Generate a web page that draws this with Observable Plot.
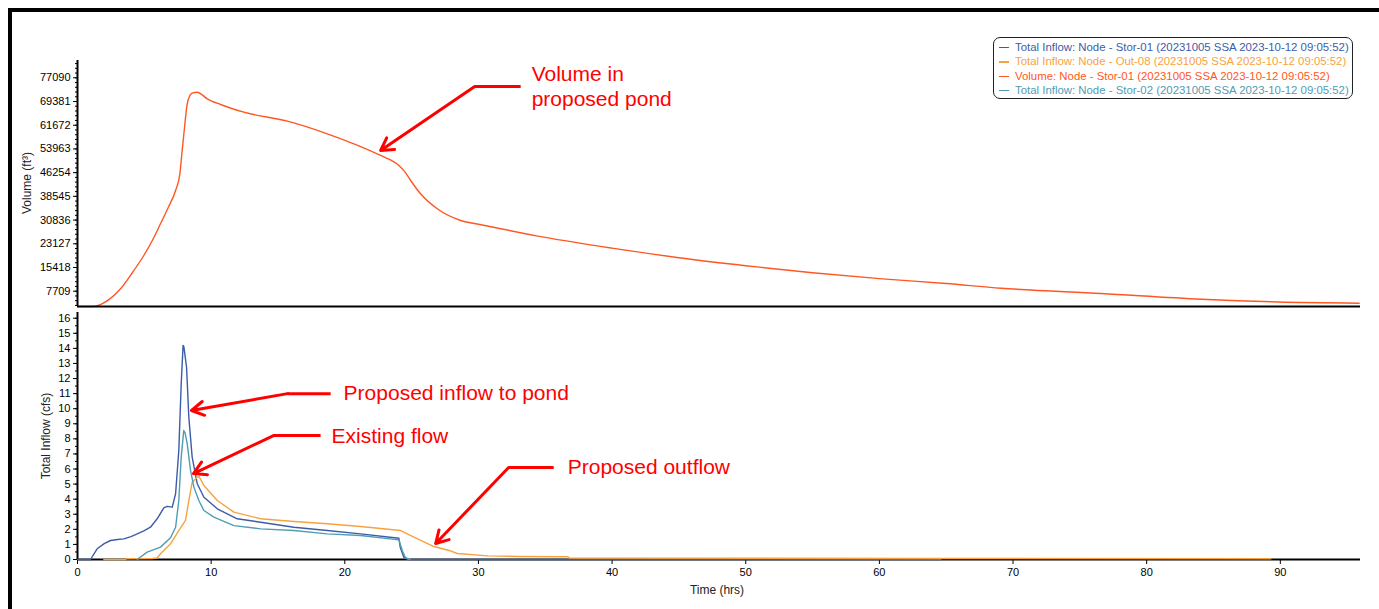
<!DOCTYPE html>
<html>
<head>
<meta charset="utf-8">
<script src="https://cdn.jsdelivr.net/npm/d3@7"></script>
<script src="https://cdn.jsdelivr.net/npm/@observablehq/plot@0.6"></script>
<style>
  body { margin: 0; background: #fff; font-family: "Liberation Sans", Arial, sans-serif; }
  #wrap { position: relative; width: 1379px; height: 609px; overflow: hidden; background: #fff; }
  .bar { position: absolute; background: #000; }
  .abs { position: absolute; }
  .ylab { position: absolute; font-size: 12px; color: #222; white-space: nowrap; transform: translate(-50%, -50%) rotate(-90deg); }
  .xlab { position: absolute; font-size: 12px; color: #222; white-space: nowrap; transform: translate(-50%, -50%); }
  #legend { position: absolute; left: 993px; top: 37px; width: 360px; height: 62px; border: 1px solid #222; border-radius: 7px; box-sizing: border-box; padding-top: 2px; font-size: 11.4px; }
  #legend .row { height: 14.4px; line-height: 14.4px; white-space: nowrap; position: relative; padding-left: 21px; }
  #legend .row .sw { position: absolute; left: 5px; top: 7px; width: 10px; height: 1.3px; }
</style>
</head>
<body>
<div id="wrap">
  <div class="bar" style="left:8px;top:8px;width:1371px;height:4px;"></div>
  <div class="bar" style="left:8px;top:8px;width:4px;height:601px;"></div>
  <div id="topPlot" class="abs" style="left:0;top:0;"></div>
  <div id="botPlot" class="abs" style="left:0;top:309px;"></div>
  <div class="ylab" style="left:27px;top:183px;">Volume (ft³)</div>
  <div class="ylab" style="left:46px;top:436px;">Total Inflow (cfs)</div>
  <div class="xlab" style="left:717px;top:590px;">Time (hrs)</div>
  <div id="legend"></div>
</div>
<script>
// ---------- colours ----------
const colStor01 = "#3d5ca8";
const colOut08 = "#f7a23e";
const colVolume = "#ff5722";
const colStor02 = "#4f9db3";
const colRed = "#ff0000";

// ---------- axes ----------
const timeDomain = [0, 96];
const timeTicks = [0, 10, 20, 30, 40, 50, 60, 70, 80, 90];
const volDomain = [2735, 82714];
const volTicks = [7709, 15418, 23127, 30836, 38545, 46254, 53963, 61672, 69381, 77090];
const volMinor = d3.range(1, 54).map(i => i * 7709 / 5).filter(v => v > volDomain[0] && v < volDomain[1]);
const flowDomain = [0, 16.38];
const flowTicks = d3.range(0, 17);
const flowMinor = d3.range(0, 33).map(i => i * 0.5).filter(v => v <= flowDomain[1]);

// ---------- series ----------
const volT = [0, 1.2, 2.0, 3.22, 4.1, 4.96, 5.6, 6.21, 6.8, 7.34, 7.66, 7.8, 7.96, 8.21, 8.4, 8.58, 8.96, 9.71, 10.7, 12.45, 15.7, 18.69, 20.68, 22.68, 24.05, 24.5, 24.93, 25.67, 26.92, 28.67, 30.2, 35, 40, 45, 50, 55, 60, 65, 69.1, 76.6, 84.1, 91.5, 95.9];
const volV = [2735, 2735, 4000, 8494, 13700, 19318, 24200, 29625, 35000, 40451, 45880, 52000, 58884, 68637, 71200, 72083, 72409, 70263, 68410, 65907, 62981, 58884, 55634, 51830, 48579, 46500, 43702, 39378, 34501, 30698, 29333, 25200, 21700, 18600, 16000, 13700, 11800, 10200, 8690, 6965, 5112, 4040, 3813];

const stor01T = [0, 0.97, 1.47, 2.0, 2.47, 3.0, 3.47, 4.0, 4.47, 5.0, 5.46, 5.96, 6.46, 6.71, 7.09, 7.34, 7.58, 7.76, 7.9, 7.96, 8.16, 8.33, 8.58, 8.96, 9.46, 10.46, 11.95, 13.7, 16.19, 18.69, 21.18, 24.05, 24.15, 24.42, 24.8, 64.6];
const stor01V = [0, 0, 0.71, 1.05, 1.26, 1.33, 1.37, 1.52, 1.70, 1.92, 2.14, 2.70, 3.43, 3.52, 3.47, 4.36, 7.23, 11.65, 14.2, 14.1, 12.75, 9.44, 6.79, 5.02, 4.13, 3.36, 2.70, 2.47, 2.14, 1.92, 1.70, 1.41, 0.8, 0.15, 0, 0];

const out08T = [1.97, 3.6, 3.65, 5.6, 5.96, 6.21, 6.96, 7.58, 8.08, 8.33, 8.58, 8.96, 9.1, 9.46, 10.46, 11.7, 13.7, 16.19, 18.69, 21.18, 24.18, 25.17, 26.67, 27.8, 28.42, 30.7, 33, 36.7, 36.8, 64.5, 89.3];
const out08V = [0, 0, 0.05, 0.07, 0.1, 0.38, 1.04, 1.92, 2.59, 3.91, 5.13, 5.46, 5.5, 4.91, 3.91, 3.14, 2.70, 2.52, 2.37, 2.19, 1.92, 1.48, 0.86, 0.6, 0.40, 0.24, 0.2, 0.18, 0.09, 0.07, 0.05];

const stor02T = [4.47, 5.21, 6.21, 6.96, 7.34, 7.58, 7.76, 7.95, 8.05, 8.21, 8.46, 8.71, 9.08, 9.46, 10.2, 11.7, 13.7, 16.19, 18.69, 21.18, 24.05, 24.3, 24.55, 24.9];
const stor02V = [0, 0.49, 0.82, 1.44, 2.14, 3.91, 6.79, 8.55, 8.4, 7.67, 5.90, 4.80, 3.91, 3.25, 2.81, 2.25, 2.03, 1.92, 1.70, 1.59, 1.30, 0.6, 0.1, 0];

// ---------- legend ----------
const legendLabels = [
  "Total Inflow: Node - Stor-01 (20231005 SSA 2023-10-12 09:05:52)",
  "Total Inflow: Node - Out-08 (20231005 SSA 2023-10-12 09:05:52)",
  "Volume: Node - Stor-01 (20231005 SSA 2023-10-12 09:05:52)",
  "Total Inflow: Node - Stor-02 (20231005 SSA 2023-10-12 09:05:52)"
];
const legendColors = [colStor01, colOut08, colVolume, colStor02];

// ---------- annotations (data coordinates) ----------
const topNoteText = ["Volume in", "proposed pond"];
const topNoteT = [33.98, 33.98];
const topNoteV = [78400, 70035];
const topArrowSeg = [{x1: 33.16, y1: 74262, x2: 29.72, y2: 74262}];
const topArrowHead = [{x1: 29.72, y1: 74262, x2: 22.68, y2: 53455}];

const botNoteText = ["Proposed inflow to pond", "Existing flow", "Proposed outflow"];
const botNoteT = [19.91, 19.01, 36.68];
const botNoteV = [11.0, 8.16, 6.10];
const botArrowSegX1 = [18.94, 18.19, 35.63];
const botArrowSegX2 = [15.72, 14.67, 32.26];
const botArrowSegY = [11.0, 8.22, 6.10];
const botArrowTipX = [8.53, 8.68, 26.80];
const botArrowTipY = [9.88, 5.70, 1.06];

// ---------- build tables ----------
const zip = (T, V) => T.map((t, i) => ({t, v: V[i]}));
const volData = zip(volT, volV);
const stor01Data = zip(stor01T, stor01V);
const out08Data = zip(out08T, out08V);
const stor02Data = zip(stor02T, stor02V);
const topNotes = topNoteText.map((text, i) => ({text, t: topNoteT[i], v: topNoteV[i]}));
const botNotes = botNoteText.map((text, i) => ({text, t: botNoteT[i], v: botNoteV[i]}));
const botSegs = botArrowSegX1.map((x1, i) => ({x1, x2: botArrowSegX2[i], y: botArrowSegY[i]}));
const botHeads = botArrowSegX2.map((x1, i) => ({x1, y1: botArrowSegY[i], x2: botArrowTipX[i], y2: botArrowTipY[i]}));

const baseStyle = {background: "transparent", overflow: "visible", fontFamily: "Liberation Sans, Arial, sans-serif", fontSize: "11px", color: "#000"};
const lineW = 1.4;
const noteSize = 21;

const topChart = Plot.plot({
  width: 1379, height: 309,
  marginLeft: 77, marginRight: 19, marginTop: 60, marginBottom: 3,
  style: baseStyle,
  x: {domain: timeDomain, axis: null},
  y: {domain: volDomain},
  marks: [
    Plot.axisY(volMinor, {tickSize: 2, tickFormat: () => "", label: null}),
    Plot.axisY(volTicks, {tickSize: 4, tickPadding: 3, tickFormat: d => String(d), label: null}),
    Plot.line(volData, {x: "t", y: "v", stroke: colVolume, strokeWidth: lineW, curve: "monotone-x"}),
    Plot.ruleX([0], {stroke: "#000", strokeWidth: 2}),
    Plot.ruleY([volDomain[0]], {stroke: "#000", strokeWidth: 2}),
    Plot.link(topArrowSeg, {x1: "x1", y1: "y1", x2: "x2", y2: "y2", stroke: colRed, strokeWidth: 3}),
    Plot.arrow(topArrowHead, {x1: "x1", y1: "y1", x2: "x2", y2: "y2", stroke: colRed, strokeWidth: 3, headLength: 7, headAngle: 60}),
    Plot.text(topNotes, {x: "t", y: "v", text: "text", textAnchor: "start", lineAnchor: "middle", fill: colRed, fontSize: noteSize})
  ]
});
document.getElementById("topPlot").appendChild(topChart);

const botChart = Plot.plot({
  width: 1379, height: 300,
  marginLeft: 77, marginRight: 19, marginTop: 3, marginBottom: 50,
  style: baseStyle,
  x: {domain: timeDomain},
  y: {domain: flowDomain},
  marks: [
    Plot.axisY(flowMinor, {tickSize: 2, tickFormat: () => "", label: null}),
    Plot.axisY(flowTicks, {tickSize: 4, tickPadding: 3, label: null}),
    Plot.axisX(timeTicks, {tickSize: 5, tickPadding: 4, label: null}),
    Plot.ruleX([0], {stroke: "#000", strokeWidth: 2}),
    Plot.ruleY([0], {stroke: "#000", strokeWidth: 2}),
    Plot.line(stor01Data, {x: "t", y: "v", stroke: colStor01, strokeWidth: lineW}),
    Plot.line(out08Data, {x: "t", y: "v", stroke: colOut08, strokeWidth: lineW}),
    Plot.line(stor02Data, {x: "t", y: "v", stroke: colStor02, strokeWidth: lineW}),
    Plot.link(botSegs, {x1: "x1", x2: "x2", y1: "y", y2: "y", stroke: colRed, strokeWidth: 3}),
    Plot.arrow(botHeads, {x1: "x1", y1: "y1", x2: "x2", y2: "y2", stroke: colRed, strokeWidth: 3, headLength: 7, headAngle: 60}),
    Plot.text(botNotes, {x: "t", y: "v", text: "text", textAnchor: "start", lineAnchor: "middle", fill: colRed, fontSize: noteSize})
  ]
});
document.getElementById("botPlot").appendChild(botChart);

const legend = document.getElementById("legend");
legendLabels.forEach((lab, i) => {
  const row = document.createElement("div");
  row.className = "row";
  row.style.color = legendColors[i];
  const sw = document.createElement("span");
  sw.className = "sw";
  sw.style.background = legendColors[i];
  row.appendChild(sw);
  row.appendChild(document.createTextNode(lab));
  legend.appendChild(row);
});
</script>
</body>
</html>
